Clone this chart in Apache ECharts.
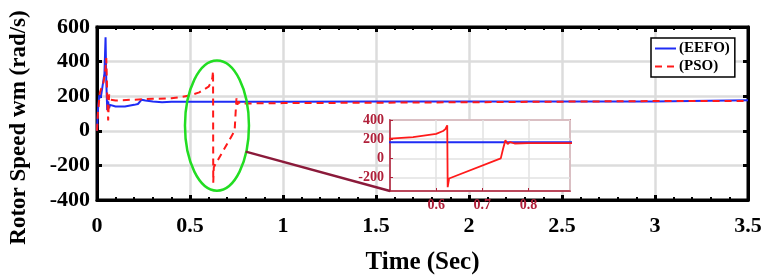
<!DOCTYPE html>
<html>
<head>
<meta charset="utf-8">
<script src="https://cdn.jsdelivr.net/npm/echarts@6/dist/echarts.min.js"></script>
<style>
  html, body { margin: 0; padding: 0; background: #fff; }
  #rotor-speed { width: 769px; height: 280px; }
</style>
</head>
<body>
<div id="rotor-speed"></div>
<script>
// EEFO rotor speed (rad/s) over time (s)
const eefoTime = [0, 0.005, 0.012, 0.02, 0.03, 0.04, 0.046, 0.05, 0.055, 0.06, 0.065, 0.07, 0.08, 0.1, 0.15, 0.2, 0.22, 0.24, 0.26, 0.3, 0.35, 0.4, 0.6, 1.0, 1.5, 2.0, 2.5, 2.99, 3.0, 3.5];
const eefoSpeed = [0, 120, 205, 190, 260, 330, 540, 280, 120, 170, 130, 150, 140, 140, 140, 150, 155, 180, 175, 170, 165, 168, 168, 168, 170, 170, 170, 170, 176, 176];

// PSO rotor speed (rad/s) over time (s)
const psoTime = [0, 0.005, 0.015, 0.025, 0.035, 0.045, 0.05, 0.055, 0.06, 0.065, 0.07, 0.08, 0.1, 0.2, 0.3, 0.4, 0.45, 0.5, 0.55, 0.6, 0.615, 0.62, 0.624, 0.625, 0.628, 0.74, 0.745, 0.75, 0.755, 0.76, 0.77, 0.8, 1.0, 2.0, 3.0, 3.5];
const psoSpeed = [0, 100, 220, 250, 280, 350, 420, 200, 60, 210, 180, 170, 175, 180, 185, 188, 195, 205, 222, 255, 285, 305, 345, -300, -210, 0, 100, 188, 150, 170, 155, 158, 160, 165, 172, 172];

const font = "'Liberation Serif', 'Times New Roman', serif";
const insetColor = "#b0203a";

function pairs(xs, ys) {
  return xs.map((x, i) => [x, ys[i]]);
}

const chart = echarts.init(document.getElementById("rotor-speed"));

let option = {
  animation: false,
  textStyle: { fontFamily: font },
  legend: {
    data: ["(EEFO)", "(PSO)"],
    orient: "vertical",
    left: 651,
    top: 38,
    itemWidth: 21,
    itemHeight: 10,
    itemGap: 3,
    padding: [3, 5, 3, 3],
    borderColor: "#000",
    borderWidth: 1.5,
    backgroundColor: "#fff",
    itemStyle: { opacity: 0 },
    textStyle: { fontFamily: font, fontWeight: "bold", fontSize: 15, color: "#000", padding: [0, 0, 0, -2] }
  },
  grid: [
    { left: 96, right: 21, top: 27, bottom: 67, show: true, borderColor: "#000", borderWidth: 3 },
    { left: 390, top: 120, width: 180, height: 71, show: true, z: 10,
      backgroundColor: "#fff", borderColor: insetColor, borderWidth: 1.5 }
  ],
  xAxis: [
    {
      type: "value", gridIndex: 0, min: 0, max: 3.5, interval: 0.5,
      name: "Time (Sec)", nameLocation: "middle", nameGap: 50,
      nameTextStyle: { fontFamily: font, fontWeight: "bold", fontSize: 25, color: "#000" },
      axisLine: { onZero: false, lineStyle: { color: "#000", width: 3 } },
      axisTick: { inside: true, length: 5, lineStyle: { color: "#000", width: 3 } },
      minorTick: { show: true, splitNumber: 5, length: 3, lineStyle: { color: "#000", width: 2 } },
      axisLabel: { fontFamily: font, fontWeight: "bold", fontSize: 22, color: "#000", margin: 15 },
      splitLine: { lineStyle: { color: "#dcdcdc", width: 2.5 } }
    },
    {
      type: "value", gridIndex: 0, position: "top", min: 0, max: 3.5, interval: 0.5,
      axisLine: { onZero: false, lineStyle: { color: "#000", width: 3 } },
      axisTick: { inside: true, length: 5, lineStyle: { color: "#000", width: 3 } },
      minorTick: { show: true, splitNumber: 5, length: 3, lineStyle: { color: "#000", width: 2 } },
      axisLabel: { show: false },
      splitLine: { show: false }
    },
    {
      type: "value", gridIndex: 1, min: 0.5, max: 0.89, interval: 0.1, z: 11,
      axisLine: { onZero: false, lineStyle: { color: insetColor, width: 1.5 } },
      axisTick: { inside: true, length: 3, lineStyle: { color: insetColor } },
      axisLabel: { fontFamily: font, fontWeight: "bold", fontSize: 14, color: insetColor,
        margin: 7, showMinLabel: false, showMaxLabel: false },
      splitLine: { lineStyle: { color: "#e2e2e2", width: 1.5 } }
    }
  ],
  yAxis: [
    {
      type: "value", gridIndex: 0, min: -400, max: 600, interval: 200,
      name: "Rotor Speed wm (rad/s)", nameLocation: "middle", nameGap: 66,
      nameTextStyle: { fontFamily: font, fontWeight: "bold", fontSize: 23, color: "#000", padding: [0, 28, 0, 0] },
      axisLine: { onZero: false, lineStyle: { color: "#000", width: 3 } },
      axisTick: { inside: true, length: 5, lineStyle: { color: "#000", width: 3 } },
      axisLabel: { fontFamily: font, fontWeight: "bold", fontSize: 22, color: "#000", margin: 7 },
      splitLine: { lineStyle: { color: "#dcdcdc", width: 2.5 } }
    },
    {
      type: "value", gridIndex: 0, position: "right", min: -400, max: 600, interval: 200,
      axisLine: { onZero: false, lineStyle: { color: "#000", width: 3 } },
      axisTick: { inside: true, length: 5, lineStyle: { color: "#000", width: 3 } },
      axisLabel: { show: false },
      splitLine: { show: false }
    },
    {
      type: "value", gridIndex: 1, min: -340, max: 400, splitNumber: 4, z: 11,
      axisLine: { onZero: false, lineStyle: { color: insetColor, width: 1.5 } },
      axisTick: { inside: true, length: 3, lineStyle: { color: insetColor } },
      axisLabel: { fontFamily: font, fontWeight: "bold", fontSize: 14, color: insetColor,
        margin: 6, showMinLabel: false },
      splitLine: { lineStyle: { color: "#e2e2e2", width: 1.5 } }
    }
  ],
  series: [
    {
      name: "(EEFO)", type: "line", xAxisIndex: 0, yAxisIndex: 0,
      showSymbol: false, symbol: "none", z: 3,
      itemStyle: { color: "#1f2cf5" },
      lineStyle: { color: "#1f2cf5", width: 2 },
      data: pairs(eefoTime, eefoSpeed)
    },
    {
      name: "(PSO)", type: "line", xAxisIndex: 0, yAxisIndex: 0,
      showSymbol: false, symbol: "none", z: 4,
      itemStyle: { color: "#ff1a1a" },
      lineStyle: { color: "#ff1a1a", width: 2, type: [7, 5] },
      data: pairs(psoTime, psoSpeed)
    },
    {
      name: "inset EEFO", type: "line", xAxisIndex: 2, yAxisIndex: 2,
      showSymbol: false, symbol: "none", z: 12, clip: true,
      lineStyle: { color: "#1f2cf5", width: 1.8 },
      data: pairs(eefoTime, eefoSpeed)
    },
    {
      name: "inset PSO", type: "line", xAxisIndex: 2, yAxisIndex: 2,
      showSymbol: false, symbol: "none", z: 13, clip: true,
      lineStyle: { color: "#ff1a1a", width: 1.8 },
      data: pairs(psoTime, psoSpeed)
    }
  ]
};

chart.setOption(option);

// 放大区域标注：椭圆 + 连接线
const c = chart.convertToPixel({ gridIndex: 0 }, [0.645, 30]);
const edge = chart.convertToPixel({ gridIndex: 0 }, [0.645 + 0.172, 30 - 376]);
const rx = edge[0] - c[0];
const ry = edge[1] - c[1];
const corner = chart.convertToPixel({ gridIndex: 1 }, [0.5, -340]);

chart.setOption({
  graphic: [
    {
      type: "ellipse", z: 20,
      shape: { cx: c[0], cy: c[1], rx: rx, ry: ry },
      style: { fill: "none", stroke: "#22dd22", lineWidth: 2.5 }
    },
    {
      type: "line", z: 20,
      shape: { x1: c[0] + rx * 0.9, y1: c[1] + ry * 0.4, x2: corner[0], y2: corner[1] },
      style: { stroke: "#8b1a3a", lineWidth: 2.5 }
    }
  ]
});
</script>
</body>
</html>
